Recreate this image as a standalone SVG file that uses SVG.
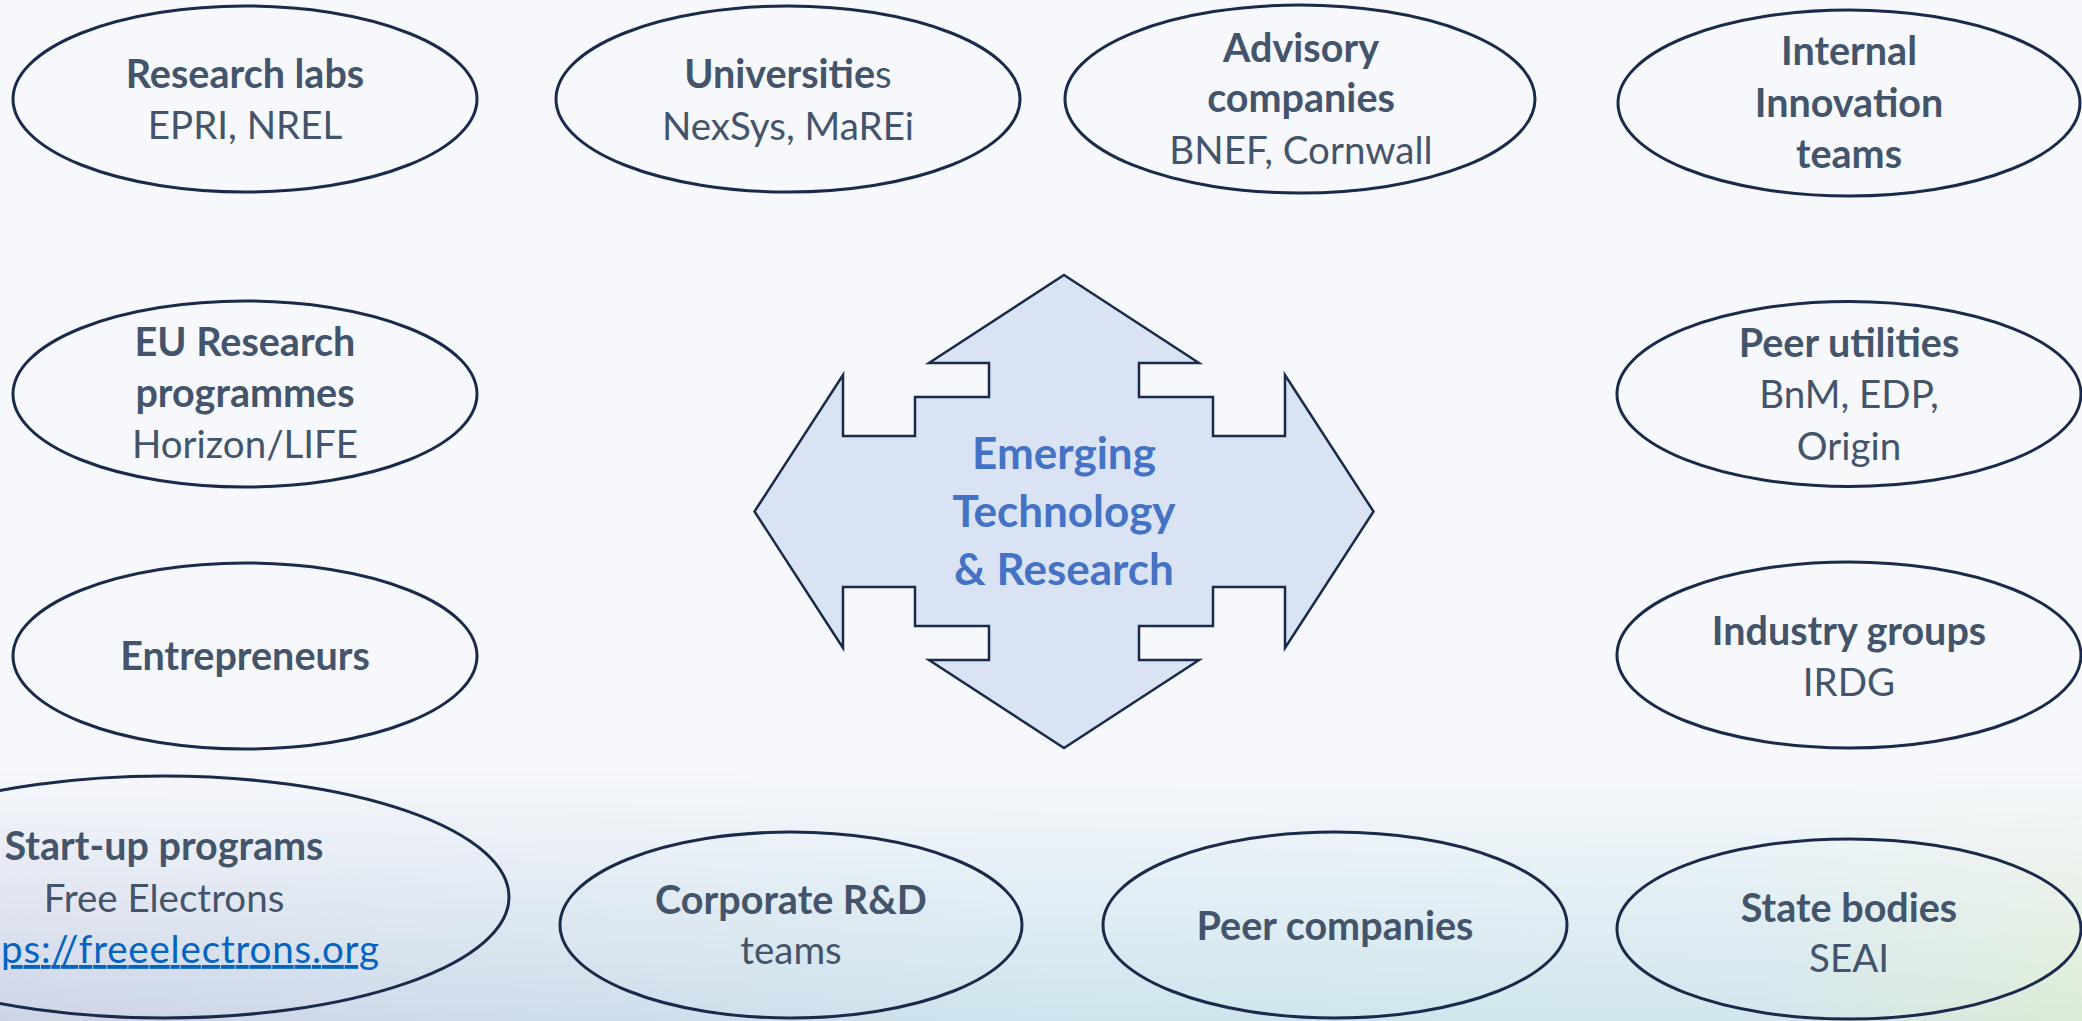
<svg xmlns="http://www.w3.org/2000/svg" width="2082" height="1021" viewBox="0 0 2082 1021">
<style>
.node ellipse{fill:none;stroke:#1b2a4a;stroke-width:3}
text{font-family:Lato,"Open Sans","Liberation Sans",sans-serif;font-size:38.5px;fill:#44546a;text-anchor:middle}
.b{font-weight:bold;font-size:39.5px}
.c{font-weight:bold;fill:#4472c4;font-size:44px}
.link{fill:#0563c1;text-decoration:underline;text-anchor:start}
</style>
<defs>
<linearGradient id="hz" x1="0" y1="0" x2="1" y2="0">
<stop offset="0" stop-color="#cdd4e6"/>
<stop offset="0.5" stop-color="#cde4ee"/>
<stop offset="0.85" stop-color="#d1e6ec"/>
<stop offset="1" stop-color="#dcebd4"/>
</linearGradient>
<linearGradient id="vf" x1="0" y1="0" x2="0" y2="1">
<stop offset="0" stop-color="#000"/>
<stop offset="1" stop-color="#fff"/>
</linearGradient>
<mask id="fade"><rect x="0" y="770" width="2082" height="251" fill="url(#vf)"/></mask>
</defs>
<rect width="2082" height="1021" fill="#f6f8fc"/>
<rect x="0" y="770" width="2082" height="251" fill="url(#hz)" mask="url(#fade)"/>

<g id="connectors"></g>

<g id="center">
<path d="M1064,275 L1199,363 L1139,363 L1139,397 L1213,397 L1213,436 L1285,436 L1285,375 L1373.5,511.5 L1285,648 L1285,587 L1213,587 L1213,626 L1139,626 L1139,660 L1199,660 L1064,748 L929,660 L989,660 L989,626 L915,626 L915,587 L843,587 L843,648 L754.5,511.5 L843,375 L843,436 L915,436 L915,397 L989,397 L989,363 L929,363 Z" fill="#dae3f3" stroke="#1b2a4a" stroke-width="2.5" stroke-linejoin="miter"/>
<text class="c" x="1064" y="469">Emerging</text>
<text class="c" x="1064" y="527">Technology</text>
<text class="c" x="1064" y="585">&amp; Research</text>
</g>

<g id="n-research-labs" class="node">
<ellipse cx="245" cy="99" rx="232" ry="93"/>
<text class="b" x="245" y="88">Research labs</text>
<text x="245" y="139">EPRI, NREL</text>
</g>
<g id="n-universities" class="node">
<ellipse cx="788" cy="99" rx="232" ry="93"/>
<text x="788" y="88"><tspan class="b">Universitie</tspan><tspan>s</tspan></text>
<text x="788" y="140">NexSys, MaREi</text>
</g>
<g id="n-advisory" class="node">
<ellipse cx="1300" cy="99" rx="235" ry="94"/>
<text class="b" x="1301" y="62">Advisory</text>
<text class="b" x="1301" y="112">companies</text>
<text x="1301" y="164">BNEF, Cornwall</text>
</g>
<g id="n-internal" class="node">
<ellipse cx="1849" cy="103" rx="231" ry="93"/>
<text class="b" x="1849" y="65">Internal</text>
<text class="b" x="1849" y="117">Innovation</text>
<text class="b" x="1849" y="168">teams</text>
</g>
<g id="n-eu" class="node">
<ellipse cx="245" cy="394" rx="232" ry="93"/>
<text class="b" x="245" y="356">EU Research</text>
<text class="b" x="245" y="407">programmes</text>
<text x="245" y="458">Horizon/LIFE</text>
</g>
<g id="n-peer-utilities" class="node">
<ellipse cx="1849" cy="394" rx="232" ry="92.5"/>
<text class="b" x="1849" y="357">Peer utilities</text>
<text x="1849" y="408">BnM, EDP,</text>
<text x="1849" y="460">Origin</text>
</g>
<g id="n-entrepreneurs" class="node">
<ellipse cx="245" cy="656" rx="232" ry="93"/>
<text class="b" x="245" y="670">Entrepreneurs</text>
</g>
<g id="n-industry" class="node">
<ellipse cx="1849" cy="655" rx="232" ry="93"/>
<text class="b" x="1849" y="645">Industry groups</text>
<text x="1849" y="696">IRDG</text>
</g>
<g id="n-startup" class="node">
<ellipse cx="164" cy="897" rx="345" ry="121"/>
<text class="b" x="164" y="860">Start-up programs</text>
<text x="164" y="912">Free Electrons</text>
<text class="link" x="1" y="963" textLength="378" lengthAdjust="spacing">ps://freeelectrons.org</text>
</g>
<g id="n-corporate" class="node">
<ellipse cx="791" cy="925" rx="231" ry="93"/>
<text class="b" x="791" y="914">Corporate R&amp;D</text>
<text x="791" y="964">teams</text>
</g>
<g id="n-peer-companies" class="node">
<ellipse cx="1335" cy="925" rx="232" ry="93"/>
<text class="b" x="1335" y="940">Peer companies</text>
</g>
<g id="n-state" class="node">
<ellipse cx="1849" cy="929" rx="232" ry="90"/>
<text class="b" x="1849" y="922">State bodies</text>
<text x="1849" y="972">SEAI</text>
</g>
</svg>
